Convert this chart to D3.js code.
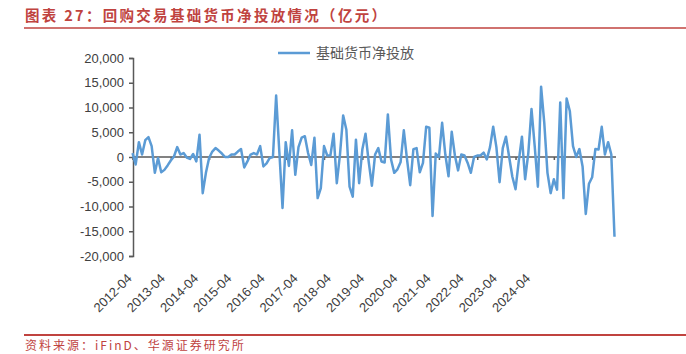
<!DOCTYPE html>
<html>
<head>
<meta charset="utf-8">
<script src="https://cdn.jsdelivr.net/npm/d3@7"></script>
<style>
  body { margin: 0; background: #fff; }
  svg { display: block; }
  .axis text { font-family: "Liberation Sans", Arial, sans-serif; fill: #404040; }
</style>
</head>
<body>
<script>
var w = 686;
var h = 354;

// monthly net injection via repo operations, 100 million yuan, starting 2012-04
const values = [
   800, -1500,  3000,   500,  3400,  4000,  2200, -3200,  -200, -3100,
 -2600, -1700,  -700,   100,  2000,   500,   800,  -100,  -400,   600,
  -900,  4500, -7300, -3200,  -200,  1100,  1800,  1300,   700,     0,
     0,   500,   500,  1100,  1600, -2100,  -900,   500,   800,   500,
  2200, -1900, -1300,  -200,     0, 12400,  1000,-10300,  3000, -1800,
  5400, -3600,  2000,  3900,  4200,   800, -1600,  3900, -8300, -6300,
  2200,   300,   300,  4700, -5300,   500,  8400,  5500, -6000, -8000,
  3500, -5300,  1500,  4700, -1000, -5800,   500,  1800,  -900, -1100,
  8600,  -500, -3200, -2500, -1000,  5400,  -500, -5700,  1600,  1800,
 -3100, -1200,  6100,  5900,-11900,   700,     0,  6900,   500, -3900,
  5100,   300, -2700,   500,   300, -1200, -3200,     0,   300,   300,
   900,  -500,  2000,  6100,  2000, -5100,  1800,  4100,     0, -4000,
 -6500,  -900,  4100, -4500,   800,  9700,  2200, -6000, 14200,  6900,
 -3200, -7300, -4500, -6600, 11000, -8300, 11800,  9300,  2200,     0,
  1600, -1900,-11500, -5400, -4100,  1600,  1500,  6100,   500,  3000,
   500,-16100
];

const tickLabels = ["2012-04", "2013-04", "2014-04", "2015-04", "2016-04", "2017-04", "2018-04",
                    "2019-04", "2020-04", "2021-04", "2022-04", "2023-04", "2024-04"];
const yTicks = [-20000, -15000, -10000, -5000, 0, 5000, 10000, 15000, 20000];
const seriesName = "基础货币净投放";
const title = "图表 27：回购交易基础货币净投放情况（亿元）";
const source = "资料来源：iFinD、华源证券研究所";

const red = "#c0433f";
const blue = "#5b9bd5";

const svg = d3.select("body")
    .append("svg")
    .attr("width", w)
    .attr("height", h);

// title + rules
svg.append("text")
    .attr("x", 25)
    .attr("y", 21)
    .attr("fill", red)
    .attr("font-family", "'Noto Sans CJK SC', sans-serif")
    .attr("font-weight", "bold")
    .attr("font-size", 14.5)
    .attr("letter-spacing", 2.3)
    .text(title);

svg.append("line")
    .attr("x1", 24).attr("x2", w)
    .attr("y1", 28).attr("y2", 28)
    .attr("stroke", red).attr("stroke-width", 1.5);

svg.append("line")
    .attr("x1", 24).attr("x2", w)
    .attr("y1", 335).attr("y2", 335)
    .attr("stroke", red).attr("stroke-width", 2);

svg.append("text")
    .attr("x", 25)
    .attr("y", 350)
    .attr("fill", red)
    .attr("font-family", "'Noto Sans CJK SC', sans-serif")
    .attr("font-size", 12)
    .attr("letter-spacing", 2)
    .text(source);

// scales
const xScale = d3.scaleLinear()
    .domain([0, values.length - 1])
    .range([132.5, 614.5]);

const yScale = d3.scaleLinear()
    .domain([-20000, 20000])
    .range([256, 58]);

const fmt = d3.formatLocale({decimal: ".", thousands: ",", grouping: [3], currency: ["", ""], minus: "-"}).format(",");

// y axis
const yAxis = d3.axisLeft(yScale)
    .tickValues(yTicks)
    .tickSize(4)
    .tickPadding(5)
    .tickFormat(fmt);

const gy = svg.append("g")
    .attr("class", "axis")
    .attr("transform", "translate(133,0)")
    .call(yAxis);
gy.selectAll("path, line").attr("stroke", "#595959").attr("stroke-width", 1.5);
gy.selectAll("text").attr("font-size", 13);

// zero line with yearly ticks
const xAxis = d3.axisBottom(xScale)
    .tickValues(d3.range(0, values.length, 12))
    .tickSize(3)
    .tickSizeOuter(0)
    .tickFormat("");

const gx = svg.append("g")
    .attr("class", "axis")
    .attr("transform", `translate(0,${yScale(0)})`)
    .call(xAxis);
gx.select(".domain").attr("d", `M133,0H616`);
gx.selectAll("path, line").attr("stroke", "#595959").attr("stroke-width", 1.5);

// category labels, rotated, below plot area
const labelScale = d3.scalePoint()
    .domain(tickLabels)
    .range([129, 129 + 12 * 33.2]);

const gl = svg.append("g")
    .attr("class", "axis")
    .attr("transform", "translate(0,276)")
    .call(d3.axisBottom(labelScale).tickSize(0).tickPadding(0));
gl.select(".domain").remove();
gl.selectAll("text")
    .attr("font-size", 13)
    .attr("text-anchor", "end")
    .attr("dy", "0.35em")
    .attr("transform", "rotate(-45)");

// line
const line = d3.line()
    .x((d, i) => xScale(i))
    .y(d => yScale(d));

svg.append("path")
    .datum(values)
    .attr("fill", "none")
    .attr("stroke", blue)
    .attr("stroke-width", 2.5)
    .attr("stroke-linejoin", "round")
    .attr("d", line);

// legend
svg.append("line")
    .attr("x1", 278).attr("x2", 310)
    .attr("y1", 53).attr("y2", 53)
    .attr("stroke", blue).attr("stroke-width", 2.5);

svg.append("text")
    .attr("x", 316)
    .attr("y", 58)
    .attr("fill", "#595959")
    .attr("font-family", "'Noto Sans CJK SC', sans-serif")
    .attr("font-size", 14)
    .text(seriesName);
</script>
</body>
</html>
